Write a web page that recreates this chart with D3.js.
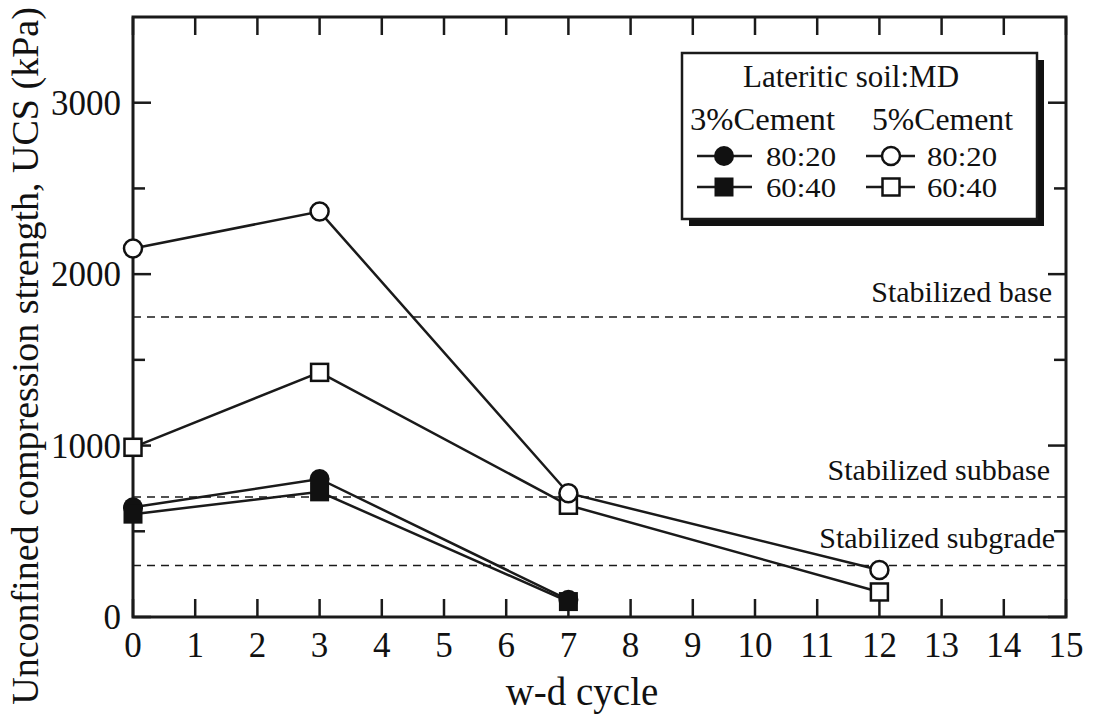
<!DOCTYPE html>
<html>
<head>
<meta charset="utf-8">
<script src="https://cdn.jsdelivr.net/npm/d3@7"></script>
<style>
  html, body { margin: 0; padding: 0; background: #fff; }
  svg { display: block; }
  text { font-family: "Liberation Serif", "Times New Roman", serif; fill: #111; }
</style>
</head>
<body>
<svg id="chart" width="1093" height="720" font-family="Liberation Serif, serif"></svg>
<script>
// ---- data ----
const cycles5 = [0, 3, 7, 12];
const cycles3 = [0, 3, 7];
const cement3_8020 = [640, 805, 100];
const cement3_6040 = [600, 730, 90];
const cement5_8020 = [2150, 2365, 722, 274];
const cement5_6040 = [990, 1427, 652, 146];
const thresholdValues = [1750, 700, 300];
const thresholdLabels = ["Stabilized base", "Stabilized subbase", "Stabilized subgrade"];
const xTicks = d3.range(0, 16, 1);
const yMajorTicks = [0, 1000, 2000, 3000];
const yMinorTicks = [500, 1500, 2500];
const legendTitle = "Lateritic soil:MD";
const legendGroups = ["3%Cement", "5%Cement"];
const legendRatios = ["80:20", "60:40"];

// ---- layout ----
const svg = d3.select("#chart");
const L = 133, R = 1066, T = 17, B = 617;
const x = d3.scaleLinear().domain([0, 15]).range([L, R]);
const y = d3.scaleLinear().domain([0, 3500]).range([B, T]);
const ink = "#1a1a1a";

// threshold dashed lines
thresholdValues.forEach((v, i) => {
  svg.append("line")
    .attr("x1", L).attr("x2", R)
    .attr("y1", y(v)).attr("y2", y(v))
    .attr("stroke", ink).attr("stroke-width", 1.5)
    .attr("stroke-dasharray", "8,6");
});
const labelY = [302, 480, 548];
const labelX = [1052, 1050, 1055];
thresholdLabels.forEach((t, i) => {
  svg.append("text")
    .attr("x", labelX[i]).attr("y", labelY[i])
    .attr("text-anchor", "end")
    .attr("font-size", 30)
    .text(t);
});

// axes (bottom, left, top, right) with inward ticks
const axisG = svg.append("g");
const majorLen = 18, minorLen = 12;
const tickLines = [];
xTicks.forEach(v => {
  tickLines.push([x(v), B, x(v), B - majorLen]);
  tickLines.push([x(v), T, x(v), T + majorLen]);
});
yMajorTicks.forEach(v => {
  tickLines.push([L, y(v), L + majorLen, y(v)]);
  tickLines.push([R, y(v), R - majorLen, y(v)]);
});
yMinorTicks.forEach(v => {
  tickLines.push([L, y(v), L + minorLen, y(v)]);
  tickLines.push([R, y(v), R - minorLen, y(v)]);
});
axisG.selectAll("line.tick").data(tickLines).enter().append("line")
  .attr("x1", d => d[0]).attr("y1", d => d[1])
  .attr("x2", d => d[2]).attr("y2", d => d[3])
  .attr("stroke", ink).attr("stroke-width", 2.5);
axisG.append("rect")
  .attr("x", L).attr("y", T).attr("width", R - L).attr("height", B - T)
  .attr("fill", "none").attr("stroke", ink).attr("stroke-width", 3);

// tick labels
svg.selectAll("text.xt").data(xTicks).enter().append("text")
  .attr("x", d => x(d)).attr("y", 657)
  .attr("text-anchor", "middle").attr("font-size", 35)
  .text(d => d);
svg.selectAll("text.yt").data(yMajorTicks).enter().append("text")
  .attr("x", 121).attr("y", d => y(d) + 12)
  .attr("text-anchor", "end").attr("font-size", 35)
  .text(d => d);

// axis titles
svg.append("text")
  .attr("x", 582).attr("y", 705)
  .attr("text-anchor", "middle").attr("font-size", 39)
  .text("w-d cycle");
svg.append("text")
  .attr("transform", "translate(38,356) rotate(-90)")
  .attr("text-anchor", "middle").attr("font-size", 38)
  .text("Unconfined compression strength, UCS (kPa)");

// ---- series ----
const line = d3.line().x(d => x(d[0])).y(d => y(d[1]));
function drawLine(xs, ys) {
  svg.append("path")
    .datum(xs.map((v, i) => [v, ys[i]]))
    .attr("d", line)
    .attr("fill", "none").attr("stroke", ink).attr("stroke-width", 2.5);
}
drawLine(cycles5, cement5_8020);
drawLine(cycles5, cement5_6040);
drawLine(cycles3, cement3_8020);
drawLine(cycles3, cement3_6040);

function marker(g, cx, cy, shape, filled) {
  if (shape === "circle") {
    g.append("circle").attr("cx", cx).attr("cy", cy).attr("r", filled ? 10 : 9)
      .attr("fill", filled ? "#111" : "#fff")
      .attr("stroke", "#111").attr("stroke-width", filled ? 0 : 2.5);
  } else {
    const s = filled ? 19 : 17;
    g.append("rect").attr("x", cx - s / 2).attr("y", cy - s / 2)
      .attr("width", s).attr("height", s)
      .attr("fill", filled ? "#111" : "#fff")
      .attr("stroke", "#111").attr("stroke-width", filled ? 0 : 2.5);
  }
}
const mg = svg.append("g");
cycles3.forEach((c, i) => marker(mg, x(c), y(cement3_8020[i]), "circle", true));
cycles3.forEach((c, i) => marker(mg, x(c), y(cement3_6040[i]), "square", true));
cycles5.forEach((c, i) => marker(mg, x(c), y(cement5_6040[i]), "square", false));
cycles5.forEach((c, i) => marker(mg, x(c), y(cement5_8020[i]), "circle", false));

// ---- legend ----
const lg = svg.append("g");
const bx = 682, by = 53, bw = 355, bh = 166;
lg.append("rect").attr("x", bx + 7).attr("y", by + 7).attr("width", bw).attr("height", bh)
  .attr("fill", "#111");
lg.append("rect").attr("x", bx).attr("y", by).attr("width", bw).attr("height", bh)
  .attr("fill", "#fff").attr("stroke", ink).attr("stroke-width", 2.5);
lg.append("text").attr("x", 851).attr("y", 87).attr("text-anchor", "middle")
  .attr("font-size", 31).text(legendTitle);
lg.append("text").attr("x", 690).attr("y", 130).attr("font-size", 31)
  .attr("textLength", 145).attr("lengthAdjust", "spacingAndGlyphs").text(legendGroups[0]);
lg.append("text").attr("x", 872).attr("y", 130).attr("font-size", 31)
  .attr("textLength", 141).attr("lengthAdjust", "spacingAndGlyphs").text(legendGroups[1]);
const rowY = [156, 187];
const cols = [{x1: 697, x2: 752, mx: 724, tx: 766, filled: true},
              {x1: 866, x2: 915, mx: 891, tx: 927, filled: false}];
cols.forEach(c => {
  legendRatios.forEach((r, i) => {
    lg.append("line").attr("x1", c.x1).attr("x2", c.x2)
      .attr("y1", rowY[i]).attr("y2", rowY[i])
      .attr("stroke", ink).attr("stroke-width", 2.5);
    marker(lg, c.mx, rowY[i], i === 0 ? "circle" : "square", c.filled);
    lg.append("text").attr("x", c.tx).attr("y", rowY[i] + 10)
      .attr("font-size", 28)
      .attr("textLength", 70).attr("lengthAdjust", "spacingAndGlyphs")
      .text(r);
  });
});
</script>
</body>
</html>
